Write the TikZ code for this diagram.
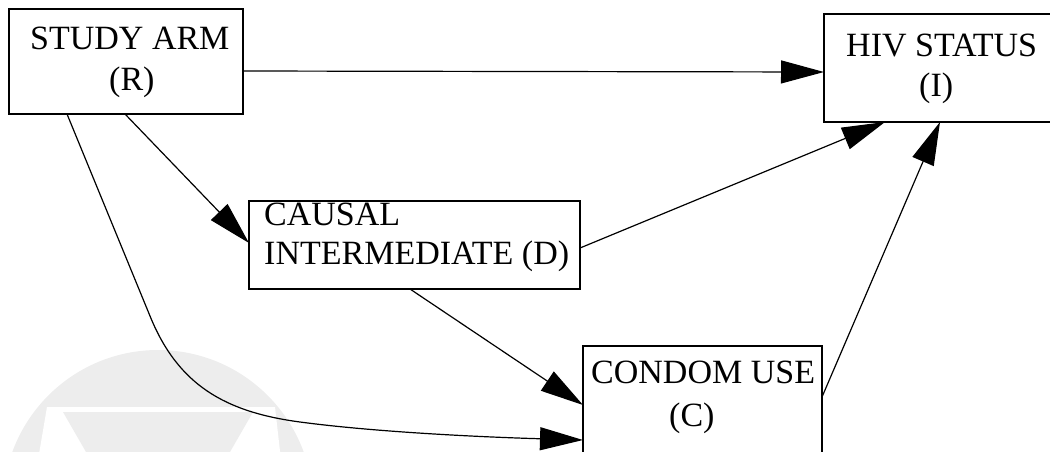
\documentclass[tikz,border=0pt]{standalone}
\usepackage{fontspec}
\setmainfont{Liberation Serif}
\usetikzlibrary{arrows.meta}
\begin{document}
\begin{tikzpicture}[x=1pt,y=-1pt,
  box/.style={draw,line width=1.4pt,inner sep=0pt,outer sep=0pt,anchor=north west},
  lbl/.style={inner sep=0pt,anchor=base west,font=\fontsize{34}{40}\selectfont},
  arr/.style={line width=1.2pt,-{Triangle[length=43pt,width=23pt]}},
  wm/.style={fill=black!7,draw=none}]
\useasboundingbox (0,0) rectangle (1050,451);
\clip (0,0) rectangle (1050,451);
% faint watermark
\fill[wm] (158,505) circle[radius=155];
\fill[white] (47,407) -- (275,407) -- (281,460) -- (38,460) -- cycle;
\fill[wm] (63,412) -- (253,412) -- (158,577) -- cycle;
% boxes
\node[box,minimum width=234pt,minimum height=105pt] (R) at (9,9) {};
\node[box,minimum width=246pt,minimum height=108pt] (I) at (824,14) {};
\node[box,minimum width=331pt,minimum height=88pt] (D) at (249,201) {};
\node[box,minimum width=239pt,minimum height=130pt] (C) at (583,346) {};
% texts
\node[lbl] (tR1) at (30,49) {STUDY ARM};
\node[lbl] (tR2) at (109,90) {(R)};
\node[lbl] (tI1) at (846,56) {HIV STATUS};
\node[lbl] (tI2) at (919,96) {(I)};
\node[lbl] (tD1) at (264,225) {CAUSAL};
\node[lbl] (tD2) at (264,264) {INTERMEDIATE (D)};
\node[lbl] (tC1) at (591,383) {CONDOM USE};
\node[lbl] (tC2) at (669,426) {(C)};
% connectors
\draw[arr] ([yshift=-62pt]R.north east) -- ([yshift=-58pt]I.north west);
\draw[arr] ([xshift=116pt]R.south west) -- ([yshift=-42pt]D.north west);
\draw[arr] ([xshift=58pt]R.south west) -- (150,316)
  .. controls (178,385) and (225,412) .. (300,422)
  .. controls (375,432) and (480,437) .. ([yshift=-94pt]C.north west);
\draw[arr] ([xshift=161pt]D.south west) -- ([yshift=-59pt]C.north west);
\draw[arr] ([yshift=-47pt]D.north east) -- ([xshift=61pt]I.south west);
\draw[arr] ([yshift=-51pt]C.north east) -- ([xshift=116pt]I.south west);
\end{tikzpicture}
\end{document}
